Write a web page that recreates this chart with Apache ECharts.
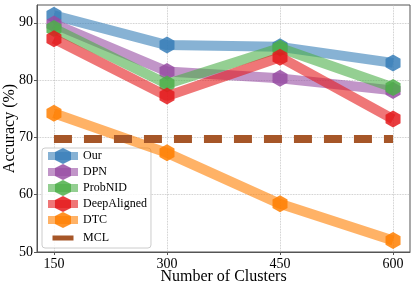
<!DOCTYPE html>
<html><head><meta charset="utf-8">
<script src="https://cdn.jsdelivr.net/npm/echarts@6/dist/echarts.min.js"></script>
<style>html,body{margin:0;padding:0;background:#fff}#c{width:416px;height:284px}</style>
</head><body><div id="c"></div>
<script>
const clusters = [150, 300, 450, 600];
const xTicks = [150, 300, 450, 600];
const yTicks = [50, 60, 70, 80, 90];
const ourVals = [91.3, 86.1, 85.8, 83.0];
const dpnVals = [89.8, 81.5, 80.3, 78.2];
const probnidVals = [89.0, 79.3, 85.6, 78.7];
const deepAlignedVals = [87.2, 77.2, 84.0, 73.2];
const dtcVals = [74.2, 67.3, 58.4, 52.0];
const mclVals = [69.7, 69.7, 69.7, 69.7];

const names = ['Our', 'DPN', 'ProbNID', 'DeepAligned', 'DTC', 'MCL'];
const colors = ['#377eb8', '#984ea3', '#4daf4a', '#e41a1c', '#ff7f00', '#a65628'];
const vals = [ourVals, dpnVals, probnidVals, deepAlignedVals, dtcVals, mclVals];
const hex = 'path://M0,-1 L0.866,-0.5 L0.866,0.5 L0,1 L-0.866,0.5 L-0.866,-0.5 Z';
const serif = '"Liberation Serif", "DejaVu Serif", serif';

function rgba(hexc, a) {
  const n = parseInt(hexc.slice(1), 16);
  return `rgba(${(n >> 16) & 255},${(n >> 8) & 255},${n & 255},${a})`;
}

const series = names.map((nm, i) => {
  const data = clusters.map((c, j) => [c, vals[i][j]]);
  if (nm === 'MCL') {
    return {
      name: nm, type: 'line', data, showSymbol: false, symbol: 'none',
      lineStyle: { color: colors[i], width: 8, type: [18, 12], cap: 'butt' },
      itemStyle: { color: colors[i] },
      z: 2 + i, silent: true
    };
  }
  return {
    name: nm, type: 'line', data, symbol: hex, symbolSize: [15, 17],
    lineStyle: { color: rgba(colors[i], 0.6), width: 10 },
    itemStyle: { color: rgba(colors[i], 0.85) },
    z: 2 + i, silent: true
  };
});

const legendData = names.map((nm, i) => {
  if (nm === 'MCL') {
    return { name: nm, icon: 'path://M0,0 L30,0 M4.5,7.5 L25.5,7.5 L25.5,12.5 L4.5,12.5 Z M0,20 L30,20',
      itemStyle: { color: colors[i], opacity: 1 } };
  }
  return { name: nm };
});

const chart = echarts.init(document.getElementById('c'), null, { renderer: 'canvas' });
chart.setOption({
  animation: false,
  grid: { left: 37, right: 6, top: 5, bottom: 32, show: true, borderColor: '#555', borderWidth: 1, containLabel: false, outerBoundsMode: 'none' },
  xAxis: {
    type: 'value', min: 127.5, max: 622.5,
    name: 'Number of Clusters', nameLocation: 'middle', nameGap: 17, nameMoveOverlap: false,
    nameTextStyle: { fontFamily: serif, fontSize: 16, color: '#000', verticalAlign: 'top' },
    axisLine: { show: true, lineStyle: { color: '#555' } },
    axisTick: { show: true, customValues: xTicks, length: 3, lineStyle: { color: '#555' } },
    axisLabel: { customValues: xTicks, fontFamily: serif, fontSize: 14, color: '#000', margin: 5 },
    splitLine: { show: true, lineStyle: { color: '#bbb', type: 'dotted', width: 0.8 } }
  },
  yAxis: {
    type: 'value', min: 50, max: 93.1,
    name: 'Accuracy (%)', nameLocation: 'middle', nameGap: 19, nameMoveOverlap: false,
    nameTextStyle: { fontFamily: serif, fontSize: 16, color: '#000', verticalAlign: 'bottom' },
    axisLine: { show: true, lineStyle: { color: '#555' } },
    axisTick: { show: true, customValues: yTicks, length: 3, lineStyle: { color: '#555' } },
    axisLabel: { customValues: yTicks, fontFamily: serif, fontSize: 14, color: '#000', margin: 4 },
    splitLine: { show: true, lineStyle: { color: '#bbb', type: 'dotted', width: 0.8 } }
  },
  legend: {
    data: legendData, orient: 'vertical', left: 42, top: 148,
    itemWidth: 30, itemHeight: 20, itemGap: 0, padding: [0, 4, 0, 2],
    lineStyle: { width: 8 },
    backgroundColor: 'rgba(255,255,255,0.85)', borderColor: '#ccc', borderWidth: 1, borderRadius: 3,
    textStyle: { fontFamily: serif, fontSize: 12, color: '#000' },
    selectedMode: false
  },
  series
});
</script></body></html>
